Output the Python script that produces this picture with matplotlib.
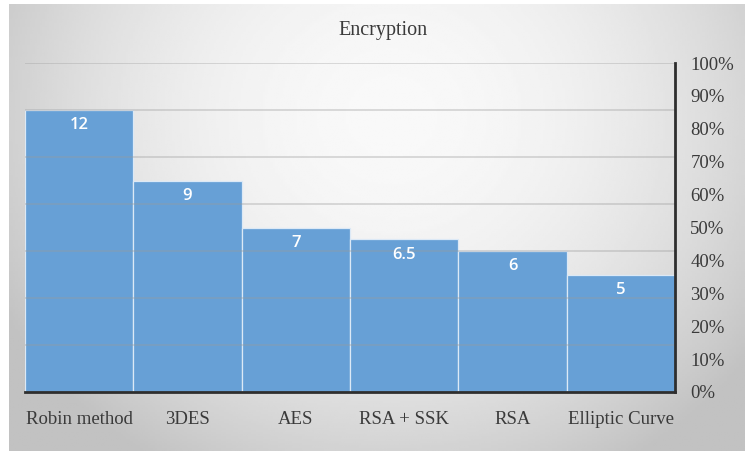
import numpy as np
import matplotlib.pyplot as plt

# --- data ---
methods = ["Robin method", "3DES", "AES", "RSA + SSK", "RSA", "Elliptic Curve"]
scores = [12, 9, 7, 6.5, 6, 5]
score_labels = ["12", "9", "7", "6.5", "6", "5"]
pct_ticks = [0, 10, 20, 30, 40, 50, 60, 70, 80, 90, 100]

W, H = 745, 451
fig = plt.figure(figsize=(W / 100, H / 100), dpi=100)
fig.patch.set_facecolor("white")

# grey panel with soft radial gradient behind the chart
bg = fig.add_axes([9 / W, 0, 1 - 9 / W, 1 - 4 / H], zorder=-5)
yy, xx = np.mgrid[0:1:200j, 0:1:300j]
r2 = ((xx - 0.52) / 0.6) ** 2 + ((yy - 0.25) / 0.9) ** 2
shade = np.clip(0.975 - 0.21 * r2, 0.76, 0.975)
bg.imshow(shade, cmap="gray", vmin=0, vmax=1, aspect="auto",
          extent=[0, 1, 0, 1], origin="upper")
bg.axis("off")

ax = fig.add_axes([25 / W, (H - 392) / H, 650 / W, 329 / H])
ax.patch.set_alpha(0)

x = np.arange(len(methods))
ax.bar(x, scores, width=1.0, color="#67a0d6", edgecolor="#dce9f6",
       linewidth=0.9, zorder=2)

for xi, v, lab in zip(x, scores, score_labels):
    ax.annotate(lab, (xi, v), xytext=(0, -11), textcoords="offset points",
                ha="center", va="center", color="white", fontsize=12,
                family="Open Sans", fontweight="semibold", zorder=4)

ax.set_xlim(-0.5, len(methods) - 0.5)
ax.set_ylim(0, 14)
ax.set_yticks(np.arange(2, 15, 2))
ax.yaxis.grid(True, color="#9a9a9a", alpha=0.4, linewidth=1.2, zorder=3)
ax.set_axisbelow(False)
ax.set_xticks(x)
ax.set_xticklabels(methods, family="Liberation Serif", fontsize=13.5,
                   color="#3a3a3a")
ax.tick_params(axis="x", length=0, pad=14)
for s in ["top", "left", "right"]:
    ax.spines[s].set_visible(False)
ax.spines["bottom"].set_color("#2e2e2e")
ax.spines["bottom"].set_linewidth(2)
ax.spines["bottom"].set_zorder(5)

# right percentage axis
ax2 = ax.twinx()
ax2.set_ylim(0, 100)
ax2.set_yticks(pct_ticks)
ax2.set_yticklabels([f"{p}%" for p in pct_ticks], family="Liberation Serif",
                    fontsize=13.5, color="#3a3a3a")
ax2.tick_params(axis="y", length=0, pad=11)
for lab in ax2.get_yticklabels():
    lab.set_y(lab.get_position()[1])
for s in ["top", "left", "bottom"]:
    ax2.spines[s].set_visible(False)
ax2.spines["right"].set_color("#2e2e2e")
ax2.spines["right"].set_linewidth(2)
ax.tick_params(axis="y", left=False, right=False, labelleft=False,
               labelright=False)

fig.text(383 / W, 1 - 31 / H, "Encryption", ha="center", va="center",
         family="Liberation Serif", fontsize=14.5, color="#3a3a3a")

fig.savefig("out.png", dpi=100)
